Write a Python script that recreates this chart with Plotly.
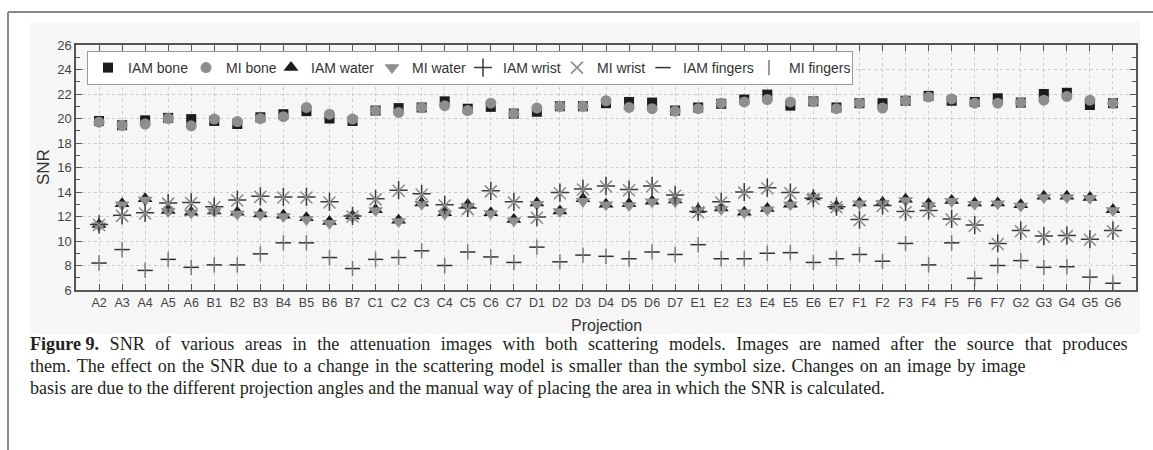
import plotly.graph_objects as go

categories = ["A2","A3","A4","A5","A6","B1","B2","B3","B4","B5","B6","B7",
              "C1","C2","C3","C4","C5","C6","C7","D1","D2","D3","D4","D5","D6","D7",
              "E1","E2","E3","E4","E5","E6","E7","F1","F2","F3","F4","F5","F6","F7",
              "G2","G3","G4","G5","G6"]

iam_bone = [19.8,19.45,19.85,20.05,19.95,19.8,19.55,20.1,20.35,20.6,20.0,19.8,
            20.65,20.85,20.9,21.4,20.8,20.95,20.4,20.55,21.0,21.0,21.25,21.35,21.3,20.65,
            20.9,21.2,21.55,21.95,21.05,21.4,20.9,21.25,21.25,21.45,21.85,21.45,21.35,21.65,
            21.3,22.0,22.1,21.1,21.25]
mi_bone = [19.7,19.45,19.55,20.0,19.4,19.95,19.75,20.0,20.15,20.9,20.35,19.95,
           20.65,20.5,20.9,21.05,20.65,21.25,20.4,20.85,21.0,21.0,21.45,20.9,20.8,20.6,
           20.8,21.25,21.35,21.55,21.35,21.4,20.8,21.25,20.85,21.45,21.75,21.6,21.25,21.25,
           21.3,21.5,21.8,21.5,21.25]
iam_water = [11.35,13.05,13.45,12.5,12.35,12.45,12.35,12.2,12.1,11.9,11.6,12.05,
             12.55,11.7,13.1,12.3,12.95,12.3,11.75,13.1,12.45,13.45,13.0,13.05,13.25,13.35,
             12.55,12.7,12.35,12.65,13.0,13.6,12.85,13.1,13.15,13.4,13.05,13.3,13.1,13.1,
             12.95,13.65,13.65,13.55,12.55]
mi_water = [11.25,12.95,13.35,12.4,12.3,12.4,12.2,12.15,12.0,11.75,11.45,11.95,
            12.5,11.6,13.0,12.2,12.8,12.25,11.65,13.0,12.4,13.25,12.95,12.9,13.2,13.2,
            12.5,12.6,12.3,12.55,12.95,13.55,12.75,13.05,13.05,13.3,12.9,13.25,13.0,13.05,
            12.85,13.55,13.55,13.5,12.5]
iam_wrist = [11.35,12.1,12.3,13.1,13.15,12.8,13.35,13.65,13.6,13.6,13.2,12.05,
             13.45,14.15,13.85,12.95,12.7,14.1,13.2,11.95,13.95,14.25,14.5,14.2,14.5,13.75,
             12.4,13.2,14.0,14.35,13.95,13.5,12.8,11.75,12.9,12.4,12.5,11.8,11.3,9.8,
             10.85,10.4,10.45,10.15,10.85]
mi_wrist = [11.3,12.05,12.25,13.05,13.1,12.75,13.3,13.6,13.55,13.55,13.15,12.0,
            13.4,14.1,13.8,12.9,12.6,14.05,13.15,11.9,13.9,14.2,14.45,14.15,14.45,13.7,
            12.35,13.15,13.95,14.3,13.9,13.45,12.75,11.7,12.85,12.35,12.45,11.75,11.25,9.75,
            10.8,10.35,10.4,10.1,10.8]
iam_fingers = [8.2,9.3,7.6,8.5,7.85,8.05,8.05,8.95,9.85,9.85,8.65,7.75,
               8.5,8.65,9.2,8.0,9.1,8.7,8.25,9.5,8.3,8.85,8.75,8.55,9.1,8.9,
               9.7,8.55,8.55,9.0,9.05,8.25,8.55,8.9,8.35,9.8,8.05,9.85,6.95,8.0,
               8.4,7.85,7.9,7.05,6.55]
mi_fingers = [8.2,9.3,7.6,8.5,7.85,8.05,8.05,8.95,9.85,9.85,8.65,7.75,
              8.5,8.65,9.2,8.0,9.1,8.7,8.25,9.5,8.3,8.85,8.75,8.55,9.1,8.9,
              9.7,8.55,8.55,9.0,9.05,8.25,8.55,8.9,8.35,9.8,8.05,9.85,6.95,8.0,
              8.4,7.85,7.9,7.05,6.55]

caption_line1_words = ["Figure 9.", "SNR", "of", "various", "areas", "in", "the", "attenuation",
                       "images", "with", "both", "scattering", "models.", "Images", "are", "named",
                       "after", "the", "source", "that", "produces"]
caption_line2 = "them. The effect on the SNR due to a change in the scattering model is smaller than the symbol size. Changes on an image by image"
caption_line3 = "basis are due to the different projection angles and the manual way of placing the area in which the SNR is calculated."

DARK = "#1c1c1c"
GRAY = "#8e8e8e"

# name, values, symbol, size, colour, line width, legend entry width
series = [
    ("IAM bone", iam_bone, "square", 10, DARK, None, 53),
    ("MI bone", mi_bone, "circle", 11, GRAY, None, 40),
    ("IAM water", iam_water, "triangle-up", 13, DARK, None, 56),
    ("MI water", mi_water, "triangle-down", 13, GRAY, None, 46),
    ("IAM wrist", iam_wrist, "cross-thin", 13, "#3a3a3a", 1.5, 49),
    ("MI wrist", mi_wrist, "x-thin", 12, "#8a8a8a", 1.5, 41),
    ("IAM fingers", iam_fingers, "line-ew", 11, "#333333", 1.5, 61),
    ("MI fingers", mi_fingers, "line-ns", 11, "#7a7a7a", 1.5, 58),
]

fig = go.Figure()
for name, vals, sym, size, col, lw, lgw in series:
    if lw is None:
        marker = dict(symbol=sym, size=size, color=col, line=dict(width=0))
    else:
        marker = dict(symbol=sym, size=size, color=col, line=dict(width=lw, color=col))
    fig.add_trace(go.Scatter(x=categories, y=vals, mode="markers", name=name,
                             marker=marker, cliponaxis=False, legendwidth=lgw))

W, H = 1153, 450
L, R, T, B = 76, 17, 45, 160
pw, ph = W - L - R, H - T - B

def px(x):
    return (x - L) / pw

def py(y):
    return (H - B - y) / ph

shapes = [
    dict(type="rect", xref="paper", yref="paper", x0=px(30), x1=px(1140), y0=py(334), y1=py(22),
         fillcolor="#f6f6f6", line=dict(width=0), layer="below"),
    dict(type="line", xref="paper", yref="paper", x0=px(8), x1=px(1153), y0=py(12), y1=py(12),
         line=dict(color="#8a8a8a", width=2)),
    dict(type="line", xref="paper", yref="paper", x0=px(8), x1=px(8), y0=py(12), y1=py(450),
         line=dict(color="#8a8a8a", width=2)),
]

# first caption line is justified in the original: widen the word gaps
gap = " \u2004"
line1 = "<b>" + caption_line1_words[0] + "</b>" + gap + gap.join(caption_line1_words[1:])
line2 = " \u200a".join(caption_line2.split(" "))
caption_lines = [line1, line2, caption_line3]

annotations = []
for i, line in enumerate(caption_lines):
    annotations.append(dict(text=line, xref="paper", yref="paper", x=px(28), y=py(344 + 22 * i),
                            xanchor="left", yanchor="middle", showarrow=False,
                            font=dict(family="Liberation Serif", size=18.1, color="#231f20")))
annotations.append(dict(text="SNR", xref="paper", yref="paper", x=px(43), y=py(167), textangle=-90,
                        xanchor="center", yanchor="middle", showarrow=False,
                        font=dict(family="Liberation Sans", size=17, color="#333333")))
annotations.append(dict(text="Projection", xref="paper", yref="paper", x=px(606), y=py(325),
                        xanchor="center", yanchor="middle", showarrow=False,
                        font=dict(family="Liberation Sans", size=16, color="#333333")))

fig.update_layout(
    width=W, height=H,
    margin=dict(l=L, r=R, t=T, b=B, pad=0),
    paper_bgcolor="white",
    plot_bgcolor="white",
    font=dict(family="Liberation Sans", color="#333333"),
    showlegend=True,
    legend=dict(orientation="h", x=px(87), y=py(51), xanchor="left", yanchor="top",
                bgcolor="white", bordercolor="#9a9a9a", borderwidth=1,
                font=dict(family="Liberation Sans", size=14, color="#333333"),
                itemclick=False),
    shapes=shapes,
    annotations=annotations,
)
fig.update_xaxes(type="category", categoryorder="array", categoryarray=categories,
                 range=[-1, len(categories)], showline=True, linecolor="#555555", linewidth=1.5,
                 mirror="ticks", ticks="inside", ticklen=6, tickcolor="#555555",
                 showgrid=True, gridcolor="#cccccc", griddash="dot", gridwidth=1,
                 tickfont=dict(family="Liberation Sans", size=12.5, color="#444444"),
                 zeroline=False, fixedrange=True)
fig.update_yaxes(range=[6, 26], dtick=2, tick0=6, showline=True, linecolor="#555555", linewidth=1.5,
                 mirror="ticks", ticks="inside", ticklen=6, tickcolor="#555555",
                 minor=dict(dtick=1, ticks="inside", ticklen=4, tickcolor="#555555", showgrid=False),
                 showgrid=True, gridcolor="#cccccc", griddash="dot", gridwidth=1,
                 tickfont=dict(family="Liberation Sans", size=13, color="#444444"),
                 zeroline=False, fixedrange=True)

fig.write_html("out.html")
